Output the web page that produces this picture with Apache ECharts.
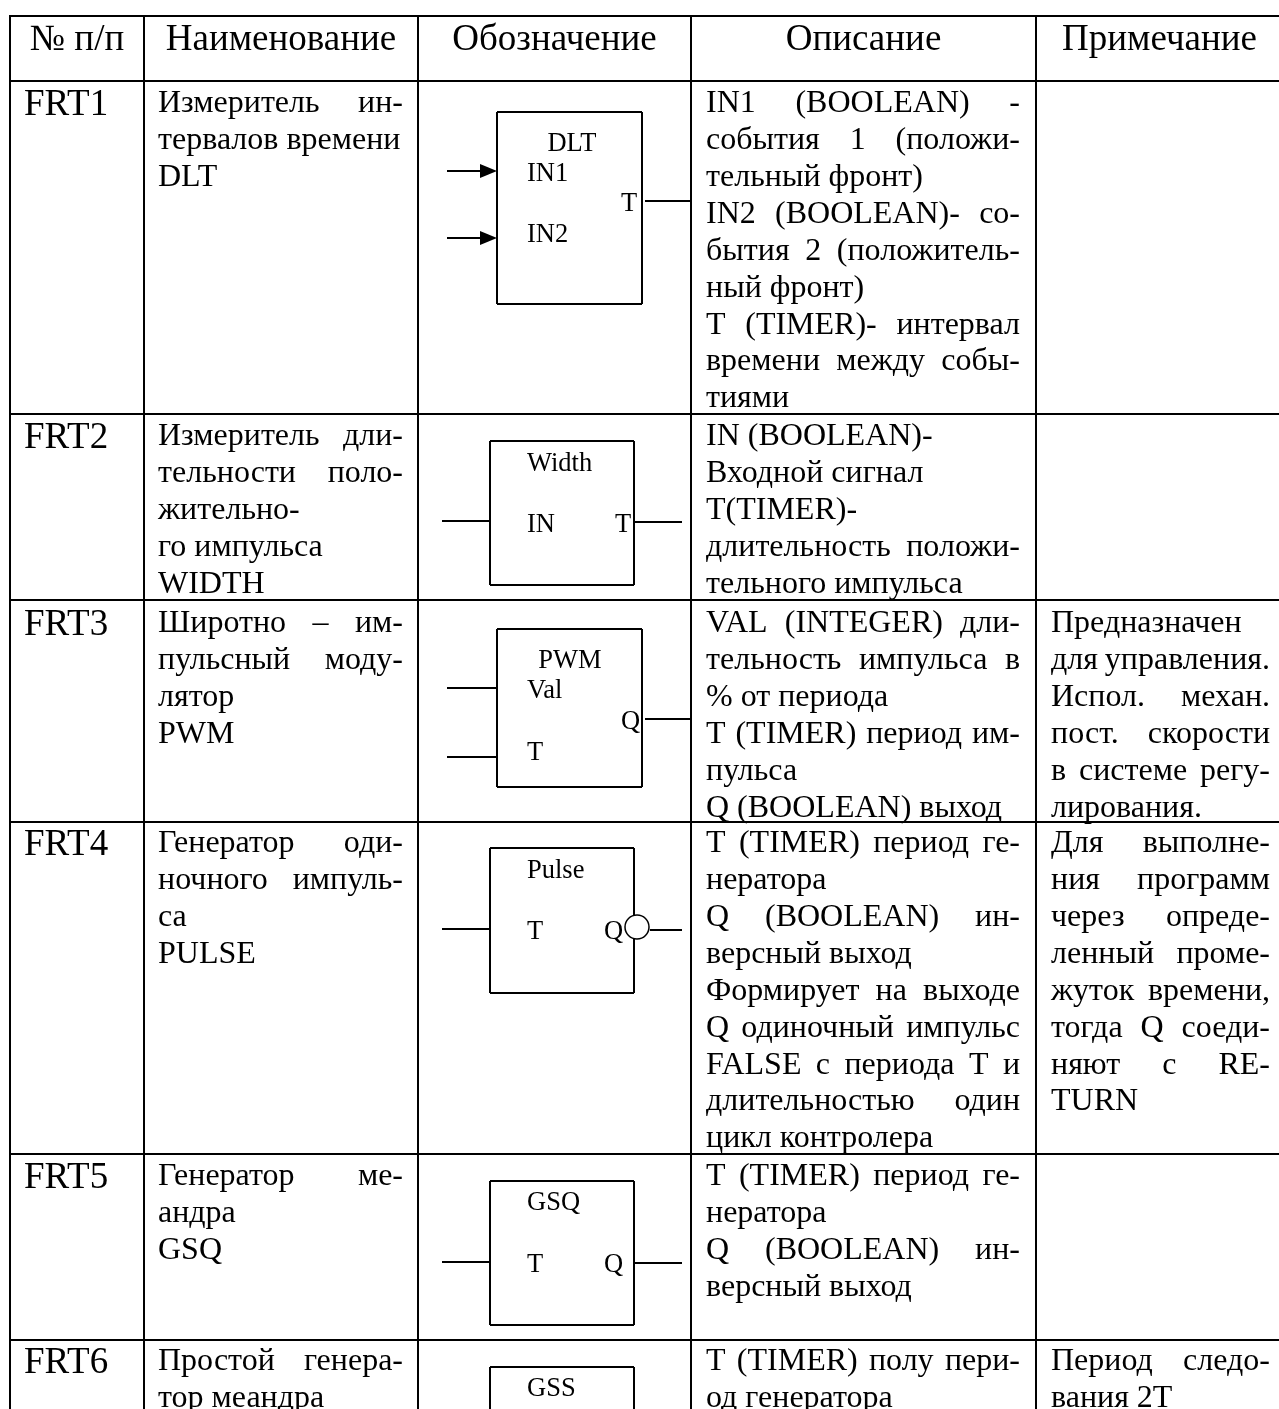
<!DOCTYPE html>
<html lang="ru">
<head>
<meta charset="utf-8">
<title>FRT</title>
<script src="https://cdn.jsdelivr.net/npm/echarts@6/dist/echarts.min.js"></script>
<style>
  html, body { margin: 0; padding: 0; background: #fff; }
  #chart { width: 1279px; height: 1409px; }
</style>
</head>
<body>
<div id="chart"></div>
<script>
// ========== table text (double space = justified line) ==========
const headers = ['№ п/п', 'Наименование', 'Обозначение', 'Описание', 'Примечание'];
const codes = ['FRT1', 'FRT2', 'FRT3', 'FRT4', 'FRT5', 'FRT6'];
const names = [
  ['Измеритель  ин-', 'тервалов времени', 'DLT'],
  ['Измеритель  дли-', 'тельности  поло-', 'жительно-', 'го импульса', 'WIDTH'],
  ['Широтно  –  им-', 'пульсный  моду-', 'лятор', 'PWM'],
  ['Генератор  оди-', 'ночного  импуль-', 'са', 'PULSE'],
  ['Генератор  ме-', 'андра', 'GSQ'],
  ['Простой  генера-', 'тор меандра']
];
const descriptions = [
  ['IN1  (BOOLEAN)  -', 'события  1  (положи-', 'тельный фронт)', 'IN2  (BOOLEAN)-  со-', 'бытия  2  (положитель-', 'ный фронт)', 'T  (TIMER)-  интервал', 'времени  между  собы-', 'тиями'],
  ['IN (BOOLEAN)-', 'Входной сигнал', 'T(TIMER)-', 'длительность  положи-', 'тельного импульса'],
  ['VAL  (INTEGER)  дли-', 'тельность  импульса  в', '% от периода', 'T (TIMER)  период им-', 'пульса', 'Q (BOOLEAN) выход'],
  ['T (TIMER)  период ге-', 'нератора', 'Q  (BOOLEAN)  ин-', 'версный выход', 'Формирует  на  выходе', 'Q  одиночный  импульс', 'FALSE  с  периода  T  и', 'длительностью  один', 'цикл контролера'],
  ['T (TIMER)  период ге-', 'нератора', 'Q  (BOOLEAN)  ин-', 'версный выход'],
  ['T (TIMER)  полу  пери-', 'од генератора']
];
const notes = [
  [],
  [],
  ['Предназначен', 'для  управления.', 'Испол.  механ.', 'пост.  скорости', 'в  системе  регу-', 'лирования.'],
  ['Для  выполне-', 'ния  программ', 'через  опреде-', 'ленный  проме-', 'жуток  времени,', 'тогда  Q  соеди-', 'няют  с  RE-', 'TURN'],
  [],
  ['Период  следо-', 'вания 2T']
];

// ========== table grid, in axis units ==========
const colEdges = [10, 144, 418, 691, 1036, 1285];
const rowEdges = [16, 81, 414, 600, 822, 1154, 1340, 1409];
const firstLineY = [104, 437, 624, 844, 1177, 1362];
const cellLeft = [158, 706, 1051];
const cellRight = [403, 1020, 1270];

// ========== block symbols: [x0, y0, x1, y1] ==========
const blockBoxes = [
  [497, 112, 642, 304],
  [490, 441, 634, 585],
  [497, 629, 642, 787],
  [490, 848, 634, 993],
  [490, 1181, 634, 1325],
  [490, 1367, 634, 1420]
];
// [x1, x2, y]
const blockWires = [
  [447, 482, 171], [447, 482, 238], [645, 691, 201],
  [442, 490, 521], [634, 682, 522],
  [447, 497, 688], [447, 497, 757], [645, 691, 719],
  [442, 490, 929], [650, 682, 930],
  [442, 490, 1262], [634, 682, 1263]
];
// [x, y]: arrow tips on the DLT inputs
const arrowTips = [[497, 171], [497, 238]];
// [x, y]: inversion circle on the PULSE output
const inversionDots = [[637, 927]];
// [text, x, y, anchor]
const blockLabels = [
  ['DLT', 572, 144, 'center'], ['IN1', 527, 174, 'left'], ['IN2', 527, 235, 'left'], ['T', 621, 204, 'left'],
  ['Width', 527, 464, 'left'], ['IN', 527, 525, 'left'], ['T', 615, 525, 'left'],
  ['PWM', 570, 661, 'center'], ['Val', 527, 691, 'left'], ['T', 527, 753, 'left'], ['Q', 621, 722, 'left'],
  ['Pulse', 527, 871, 'left'], ['T', 527, 932, 'left'], ['Q', 604, 932, 'left'],
  ['GSQ', 527, 1203, 'left'], ['T', 527, 1265, 'left'], ['Q', 604, 1265, 'left'],
  ['GSS', 527, 1389, 'left']
];

// ========== fonts ==========
const FAMILY = '"Liberation Serif", "Times New Roman", serif';
const BODY_FONT = '32px ' + FAMILY;
const HEAD_FONT = '37px ' + FAMILY;
const CODE_FONT = '37px ' + FAMILY;
const LABEL_FONT = '26.5px ' + FAMILY;
const LINE_STEP = 36.85;
const INK = '#000';

const measure = document.createElement('canvas').getContext('2d');
const textWidth = (text, font) => {
  measure.font = font;
  return measure.measureText(text).width;
};

// ========== flatten everything into mark lists ==========
const segments = [];
colEdges.forEach((x) => segments.push([x, rowEdges[0] - 1, x, rowEdges[rowEdges.length - 1], 2]));
rowEdges.slice(0, -1).forEach((y) => segments.push([colEdges[0], y, colEdges[colEdges.length - 1], y, 2]));
blockBoxes.forEach(([x0, y0, x1, y1]) => {
  segments.push([x0, y0, x1, y0, 2], [x1, y0, x1, y1, 2], [x1, y1, x0, y1, 2], [x0, y1, x0, y0, 2]);
});
blockWires.forEach(([x1, x2, y]) => segments.push([x1, y, x2, y, 2]));

const texts = [];
headers.forEach((text, i) => {
  texts.push([text, (colEdges[i] + colEdges[i + 1]) / 2 - (i === 4 ? 1 : 0), 40, 'center', HEAD_FONT]);
});
codes.forEach((text, i) => texts.push([text, 24, firstLineY[i] + 1, 'left', CODE_FONT]));
blockLabels.forEach(([text, x, y, anchor]) => texts.push([text, x, y, anchor, LABEL_FONT]));

// justified lines are spread word by word over the cell width
const pushCell = (lines, rowIndex, colIndex) => {
  const left = cellLeft[colIndex];
  const right = cellRight[colIndex];
  lines.forEach((line, lineIndex) => {
    const y = firstLineY[rowIndex] + lineIndex * LINE_STEP;
    if (!line.includes('  ')) {
      texts.push([line, left, y, 'left', BODY_FONT]);
      return;
    }
    const words = line.split(/\s+/);
    const total = words.reduce((sum, word) => sum + textWidth(word, BODY_FONT), 0);
    const gap = (right - left - total) / (words.length - 1);
    let x = left;
    words.forEach((word) => {
      texts.push([word, x, y, 'left', BODY_FONT]);
      x += textWidth(word, BODY_FONT) + gap;
    });
  });
};
names.forEach((lines, row) => pushCell(lines, row, 0));
descriptions.forEach((lines, row) => pushCell(lines, row, 1));
notes.forEach((lines, row) => pushCell(lines, row, 2));

// ========== chart ==========
const chart = echarts.init(document.getElementById('chart'), null, { renderer: 'canvas' });
chart.setOption({
  animation: false,
  backgroundColor: '#fff',
  tooltip: { show: false },
  grid: { left: 0, right: 0, top: 0, bottom: 0 },
  xAxis: { type: 'value', min: 0, max: 1279, show: false },
  yAxis: { type: 'value', min: 0, max: 1409, inverse: true, show: false },
  series: [
    {
      name: 'rules',
      type: 'custom',
      coordinateSystem: 'cartesian2d',
      silent: true,
      clip: true,
      data: segments,
      encode: { x: [0, 2], y: [1, 3] },
      renderItem: (params, api) => {
        const a = api.coord([api.value(0), api.value(1)]);
        const b = api.coord([api.value(2), api.value(3)]);
        return {
          type: 'line',
          shape: { x1: a[0], y1: a[1], x2: b[0], y2: b[1] },
          style: { stroke: '#000', lineWidth: api.value(4) }
        };
      }
    },
    {
      name: 'arrows',
      type: 'custom',
      coordinateSystem: 'cartesian2d',
      silent: true,
      data: arrowTips,
      encode: { x: 0, y: 1 },
      renderItem: (params, api) => {
        const tip = api.coord([api.value(0), api.value(1)]);
        return {
          type: 'polygon',
          shape: { points: [[tip[0], tip[1]], [tip[0] - 17, tip[1] - 7], [tip[0] - 17, tip[1] + 7]] },
          style: { fill: '#000' }
        };
      }
    },
    {
      name: 'inversion',
      type: 'scatter',
      silent: true,
      symbol: 'circle',
      symbolSize: 24,
      data: inversionDots,
      itemStyle: { color: '#fff', borderColor: '#000', borderWidth: 1.5, opacity: 1 },
      z: 3
    },
    {
      name: 'text',
      type: 'custom',
      coordinateSystem: 'cartesian2d',
      silent: true,
      clip: true,
      data: texts.map((t, i) => [t[1], t[2], i]),
      encode: { x: 0, y: 1 },
      z: 4,
      renderItem: (params, api) => {
        const t = texts[api.value(2)];
        const p = api.coord([api.value(0), api.value(1)]);
        return {
          type: 'text',
          x: p[0],
          y: p[1],
          style: { text: t[0], font: t[4], fill: INK, textAlign: t[3], textVerticalAlign: 'middle' }
        };
      }
    }
  ]
});
</script>
</body>
</html>
